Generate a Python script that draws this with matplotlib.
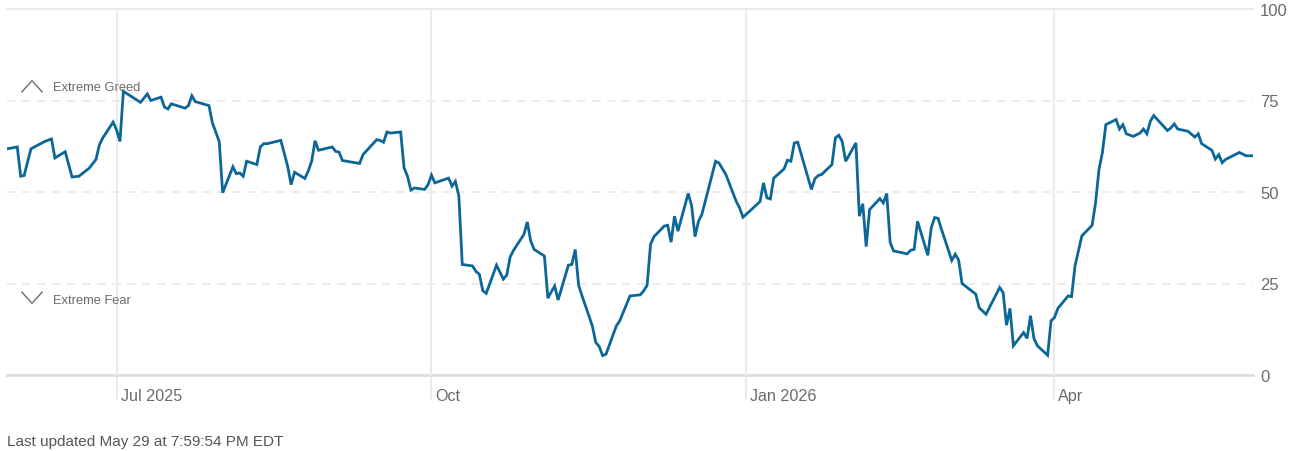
import numpy as np
import pandas as pd
import matplotlib
matplotlib.use("Agg")
import matplotlib.pyplot as plt
import matplotlib.transforms as mtransforms

plt.rcParams['font.family'] = ['Liberation Sans', 'DejaVu Sans']

# fear & greed index readings
dates = [
    "2025-05-30", "2025-06-02", "2025-06-03", "2025-06-04", "2025-06-06", "2025-06-10",
    "2025-06-12", "2025-06-13", "2025-06-16", "2025-06-18", "2025-06-20", "2025-06-23",
    "2025-06-25", "2025-06-26", "2025-06-27", "2025-06-30", "2025-07-01", "2025-07-02",
    "2025-07-03", "2025-07-08", "2025-07-10", "2025-07-11", "2025-07-14", "2025-07-15",
    "2025-07-16", "2025-07-17", "2025-07-21", "2025-07-22", "2025-07-23", "2025-07-24",
    "2025-07-28", "2025-07-29", "2025-07-31", "2025-08-01", "2025-08-04", "2025-08-05",
    "2025-08-06", "2025-08-07", "2025-08-08", "2025-08-11", "2025-08-12", "2025-08-13",
    "2025-08-14", "2025-08-18", "2025-08-20", "2025-08-21", "2025-08-22", "2025-08-25",
    "2025-08-26", "2025-08-27", "2025-08-28", "2025-08-29", "2025-09-02", "2025-09-03",
    "2025-09-04", "2025-09-05", "2025-09-10", "2025-09-11", "2025-09-15", "2025-09-16",
    "2025-09-17", "2025-09-18", "2025-09-19", "2025-09-22", "2025-09-23", "2025-09-24",
    "2025-09-25", "2025-09-26", "2025-09-29", "2025-09-30", "2025-10-01", "2025-10-02",
    "2025-10-06", "2025-10-07", "2025-10-08", "2025-10-09", "2025-10-10", "2025-10-13",
    "2025-10-14", "2025-10-15", "2025-10-16", "2025-10-17", "2025-10-20", "2025-10-22",
    "2025-10-23", "2025-10-24", "2025-10-25", "2025-10-28", "2025-10-29", "2025-10-30",
    "2025-10-31", "2025-11-03", "2025-11-04", "2025-11-05", "2025-11-06", "2025-11-07",
    "2025-11-10", "2025-11-11", "2025-11-12", "2025-11-13", "2025-11-14", "2025-11-17",
    "2025-11-18", "2025-11-19", "2025-11-20", "2025-11-21", "2025-11-24", "2025-11-25",
    "2025-11-28", "2025-12-01", "2025-12-02", "2025-12-03", "2025-12-04", "2025-12-05",
    "2025-12-08", "2025-12-09", "2025-12-10", "2025-12-11", "2025-12-12", "2025-12-15",
    "2025-12-16", "2025-12-17", "2025-12-18", "2025-12-19", "2025-12-23", "2025-12-24",
    "2025-12-26", "2025-12-29", "2025-12-30", "2025-12-31", "2026-01-02", "2026-01-05",
    "2026-01-06", "2026-01-07", "2026-01-08", "2026-01-09", "2026-01-12", "2026-01-13",
    "2026-01-14", "2026-01-15", "2026-01-16", "2026-01-20", "2026-01-21", "2026-01-22",
    "2026-01-23", "2026-01-26", "2026-01-27", "2026-01-28", "2026-01-29", "2026-01-30",
    "2026-02-02", "2026-02-03", "2026-02-04", "2026-02-05", "2026-02-06", "2026-02-09",
    "2026-02-10", "2026-02-11", "2026-02-12", "2026-02-13", "2026-02-17", "2026-02-18",
    "2026-02-19", "2026-02-20", "2026-02-23", "2026-02-24", "2026-02-25", "2026-02-26",
    "2026-02-27", "2026-03-02", "2026-03-03", "2026-03-04", "2026-03-05", "2026-03-09",
    "2026-03-10", "2026-03-12", "2026-03-16", "2026-03-17", "2026-03-18", "2026-03-19",
    "2026-03-20", "2026-03-23", "2026-03-24", "2026-03-25", "2026-03-26", "2026-03-27",
    "2026-03-30", "2026-03-31", "2026-04-01", "2026-04-02", "2026-04-05", "2026-04-06",
    "2026-04-07", "2026-04-09", "2026-04-12", "2026-04-13", "2026-04-14", "2026-04-15",
    "2026-04-16", "2026-04-19", "2026-04-20", "2026-04-21", "2026-04-22", "2026-04-24",
    "2026-04-26", "2026-04-27", "2026-04-28", "2026-04-29", "2026-04-30", "2026-05-04",
    "2026-05-05", "2026-05-06", "2026-05-07", "2026-05-10", "2026-05-12", "2026-05-13",
    "2026-05-14", "2026-05-17", "2026-05-18", "2026-05-19", "2026-05-20", "2026-05-21",
    "2026-05-25", "2026-05-27", "2026-05-29",
]
values = [
    61.8, 62.3, 54.3, 54.5, 61.8, 63.8,
    64.5, 59.3, 61.0, 54.1, 54.3, 56.5,
    58.9, 62.9, 64.8, 69.1, 67.0, 63.8,
    77.5, 74.5, 76.8, 75.0, 75.9, 73.2,
    72.7, 74.1, 72.9, 73.6, 76.3, 74.7,
    73.6, 68.9, 63.8, 49.8, 56.9, 55.0,
    55.2, 54.3, 58.4, 57.5, 62.3, 63.2,
    63.2, 64.1, 57.0, 52.0, 55.4, 53.7,
    55.7, 58.4, 64.0, 61.4, 62.3, 61.1,
    60.9, 58.6, 57.8, 60.2, 64.3, 64.1,
    63.6, 66.4, 66.1, 66.4, 56.6, 54.3,
    50.5, 51.1, 50.7, 52.0, 54.6, 52.5,
    53.8, 51.6, 52.9, 48.9, 30.2, 29.8,
    28.3, 27.5, 23.0, 22.3, 30.0, 26.2,
    27.3, 32.3, 34.1, 38.4, 41.8, 36.6,
    34.3, 32.5, 21.0, 22.7, 24.3, 20.5,
    30.0, 30.2, 34.3, 24.5, 21.6, 13.4,
    8.9, 7.8, 5.3, 5.7, 13.4, 14.8,
    21.6, 21.9, 23.0, 24.5, 35.7, 37.8,
    40.7, 40.9, 36.3, 43.4, 39.3, 49.6,
    46.3, 37.8, 42.0, 43.9, 58.4, 57.9,
    54.8, 47.5, 45.7, 43.1, 44.8, 47.4,
    52.5, 48.4, 48.1, 53.8, 56.3, 58.7,
    58.4, 63.4, 63.6, 50.7, 53.6, 54.5,
    54.8, 57.5, 64.8, 65.5, 63.8, 58.4,
    63.4, 43.4, 46.8, 35.1, 45.2, 48.2,
    47.0, 49.6, 36.2, 33.9, 33.1, 34.1,
    34.3, 42.0, 32.7, 40.2, 43.0, 42.8,
    39.8, 31.3, 33.0, 31.4, 25.0, 22.1,
    18.4, 16.6, 23.9, 22.5, 13.6, 18.2,
    8.0, 11.6, 10.0, 16.2, 10.0, 8.0,
    5.4, 14.8, 15.7, 18.2, 21.6, 21.4,
    29.8, 38.0, 40.9, 47.0, 56.1, 60.7,
    68.4, 69.8, 67.2, 68.4, 65.9, 65.2,
    66.1, 67.2, 65.9, 69.3, 70.9, 66.8,
    67.5, 68.6, 67.2, 66.6, 65.0, 65.9,
    63.2, 61.4, 59.0, 60.2, 58.0, 58.9,
    60.8, 59.9, 59.9,
]

month_ticks = ["2025-07-01", "2025-10-01", "2026-01-01", "2026-04-01"]
month_labels = ["Jul 2025", "Oct", "Jan 2026", "Apr"]
y_ticks = [0, 25, 50, 75, 100]

x = pd.to_datetime(dates)
ticks = pd.to_datetime(month_ticks)

LINE = '#0b6797'
GRID = '#e8e8e8'
TXT = '#6b6b6b'

fig = plt.figure(figsize=(12.93, 4.52), dpi=100)
ax = fig.add_axes([7 / 1293, 76 / 452, 1246 / 1293, 366 / 452])

# horizontal guides
for yv in [25, 50, 75]:
    ax.axhline(yv, color=GRID, lw=1.2, ls=(0, (5, 4)), zorder=1)
ax.axhline(100, color=GRID, lw=1.2, zorder=1, clip_on=False)
ax.axhline(0, color='#dddddd', lw=2, zorder=1, clip_on=False)

# month lines run down into the label area
for t in ticks:
    ax.axvline(t, ymin=-0.066, ymax=1, color=GRID, lw=1.2, zorder=1, clip_on=False)

ax.plot(x, values, color=LINE, lw=2.0, zorder=3, solid_joinstyle='miter')

ax.set_xlim(x[0], x[-1])
ax.set_ylim(0, 100)

for s in ax.spines.values():
    s.set_visible(False)

ax.yaxis.tick_right()
ax.set_yticks(y_ticks)
ax.tick_params(axis='y', length=0, pad=5, labelsize=12, labelcolor=TXT)
ax.set_xticks(ticks)
ax.set_xticklabels(month_labels)
ax.tick_params(axis='x', length=0, pad=9.5, labelsize=11.6, labelcolor=TXT)
shift = mtransforms.ScaledTranslation(4 / 100, 0, fig.dpi_scale_trans)
for lab in ax.get_xticklabels():
    lab.set_horizontalalignment('left')
    lab.set_transform(lab.get_transform() + shift)

# zone markers
blend = mtransforms.blended_transform_factory(ax.transAxes, ax.transData)
cx = np.array([15, 25, 35]) / 1246
ax.plot(cx, [77.4, 80.4, 77.4], color='#777777', lw=1.1, transform=blend, clip_on=False)
ax.plot(cx, [22.6, 19.6, 22.6], color='#777777', lw=1.1, transform=blend, clip_on=False)
ax.text(46 / 1246, 78.8, "Extreme Greed", transform=blend, fontsize=9.3, color=TXT, va='center')
ax.text(46 / 1246, 20.6, "Extreme Fear", transform=blend, fontsize=9.3, color=TXT, va='center')

fig.text(7 / 1293, 1 - 442 / 452, "Last updated May 29 at 7:59:54 PM EDT",
         fontsize=11, color='#555555', va='center')

fig.savefig('out.png', dpi=100)
